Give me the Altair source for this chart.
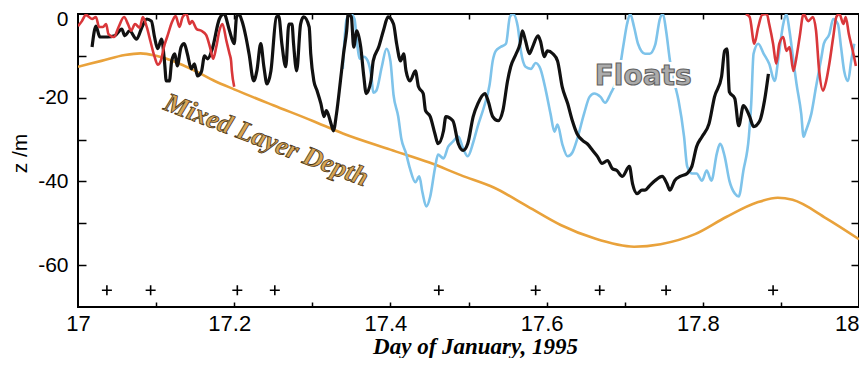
import altair as alt
import pandas as pd

# ---------------- data ----------------
black_day = [17.018,17.023,17.028,17.038,17.047,17.056,17.060,17.066,17.075,17.082,
             17.088,17.094,17.098,17.102,17.107,17.111,17.113,17.117,17.120,17.124,
             17.127,17.132,17.136,17.140,17.145,17.149,17.153,17.158,17.162,17.166,
             17.172,17.181,17.187,17.194,17.200,17.203,17.206,17.210,17.215,17.219,
             17.225,17.229,17.234,17.238,17.242,17.247,17.254,17.257,17.261,17.266,
             17.270,17.274,17.276,17.280,17.285,17.289,17.296,17.298,17.302,17.306,
             17.311,17.315,17.318,17.324,17.327,17.331,17.336,17.340,17.344,17.346,
             17.350,17.353,17.357,17.362,17.366,17.369,17.375,17.378,17.385,17.391,
             17.397,17.404,17.408,17.413,17.417,17.420,17.425,17.432,17.436,17.442,
             17.445,17.451,17.457,17.461,17.468,17.471,17.480,17.487,17.493,17.499,
             17.506,17.512,17.521,17.525,17.531,17.538,17.544,17.550,17.554,17.561,
             17.566,17.569,17.573,17.578,17.582,17.589,17.592,17.597,17.601,17.608,
             17.614,17.620,17.627,17.633,17.639,17.646,17.652,17.659,17.665,17.671,
             17.678,17.684,17.690,17.697,17.706,17.710,17.716,17.722,17.726,17.732,
             17.739,17.748,17.754,17.758,17.764,17.771,17.780,17.786,17.792,17.799,
             17.808,17.815,17.824,17.828,17.831,17.834,17.841,17.846,17.852,17.860,
             17.865,17.873,17.879,17.884]
black_z = [-7.9,-2.9,-5.5,-5.5,-5.2,-3.6,-5.2,-4.0,-6.0,-3.1,
           -1.2,-1.7,-5.5,-8.3,-6.0,-11.9,-16.0,-16.0,-11.2,-9.5,
           -12.4,-7.9,-7.1,-9.5,-13.1,-11.9,-14.8,-13.8,-10.0,-10.7,
           -8.3,-1.2,0,-4.0,-7.1,-0.7,0,-1.7,-5.5,-9.5,
           -16.0,-13.6,-7.1,-12.6,-16.7,-13.6,-0.7,-0.5,-7.1,-12.6,
           -2.4,-2.4,-7.1,-13.6,-2.4,-0.7,-3.1,-9.5,-16.0,-18.3,
           -21.4,-24.5,-23.1,-26.2,-27.9,-23.8,-16.0,-9.5,-4.0,0,
           -0.7,-7.9,-4.0,-7.9,-15.0,-19.0,-16.0,-11.2,-7.9,-4.0,
           -0.7,-2.4,-7.1,-11.2,-9.5,-13.6,-16.0,-13.6,-17.4,-19.0,
           -23.1,-24.5,-28.6,-31.0,-27.9,-24.5,-25.5,-31.0,-32.6,-31.0,
           -24.5,-21.4,-19.0,-20.7,-24.5,-25.5,-23.1,-16.0,-12.6,-9.5,
           -7.1,-4.0,-6.4,-9.5,-7.9,-5.2,-6.4,-10.2,-8.8,-9.5,
           -11.2,-17.4,-21.4,-25.5,-28.6,-30.2,-31.0,-32.6,-34.0,-35.7,
           -35.0,-36.9,-37.4,-38.8,-36.4,-40.5,-42.9,-42.1,-42.1,-41.0,
           -39.8,-38.8,-40.5,-42.1,-39.8,-38.8,-38.1,-36.4,-31.7,-29.3,
           -26.2,-19.8,-15.0,-8.8,-8.3,-18.6,-20.2,-26.7,-21.9,-24.5,
           -26.9,-25.5,-20.7,-14.3]

blue_day = [17.339,17.344,17.349,17.354,17.357,17.361,17.366,17.371,17.376,17.378,
            17.382,17.389,17.395,17.400,17.404,17.410,17.414,17.420,17.425,17.432,
            17.437,17.441,17.446,17.451,17.457,17.461,17.468,17.474,17.480,17.487,
            17.493,17.499,17.506,17.512,17.520,17.527,17.531,17.535,17.541,17.548,
            17.553,17.557,17.563,17.567,17.573,17.580,17.586,17.592,17.599,17.605,
            17.610,17.614,17.620,17.627,17.633,17.639,17.648,17.655,17.661,17.669,
            17.675,17.682,17.688,17.693,17.698,17.703,17.707,17.712,17.717,17.726,
            17.732,17.739,17.745,17.749,17.753,17.758,17.764,17.769,17.776,17.780,
            17.786,17.792,17.799,17.805,17.811,17.818,17.822,17.828,17.834,17.841,
            17.846,17.852,17.859,17.862,17.865,17.871,17.878,17.885,17.892,17.897,
            17.903,17.907,17.911,17.916,17.920,17.926,17.929,17.932,17.939,17.945,
            17.952,17.955,17.962,17.967,17.973,17.977,17.981,17.986,17.990,17.994]
blue_z = [-13.1,-1.2,0,-1.2,-6.4,-10.7,-10.2,-11.2,-15.5,-18.8,
          -18.3,-12.6,-8.3,-11.2,-19.3,-24.5,-29.8,-33.3,-36.9,-40.2,
          -38.8,-42.6,-46.0,-43.6,-36.9,-33.6,-34.5,-31.7,-30.5,-29.3,
          -32.1,-34.0,-30.7,-26.7,-22.1,-16.9,-11.2,-8.8,-7.9,-7.1,
          -0.7,0,-2.9,-8.8,-12.6,-13.1,-11.7,-13.1,-18.3,-23.8,
          -28.1,-26.4,-31.0,-34.0,-33.1,-30.0,-23.8,-19.8,-19.0,-19.8,
          -21.2,-19.0,-16.7,-13.6,-7.9,-2.4,0,-3.1,-7.1,-9.5,
          -9.5,-7.4,-1.2,0,-4.0,-11.2,-16.7,-20.7,-29.3,-36.4,
          -38.1,-38.1,-39.8,-37.4,-39.8,-33.3,-31.0,-34.0,-39.8,-42.9,
          -43.6,-37.4,-29.3,-21.4,-9.5,-7.1,-9.5,-11.9,-16.0,-10.2,
          -2.4,0,-4.0,-11.2,-16.7,-23.8,-29.3,-27.9,-23.8,-17.4,
          -10.2,-7.1,-4.8,-1.2,-2.4,-7.9,-13.6,-16.0,-11.2,-7.1]

red1_day = [17.000,17.005,17.010,17.018,17.023,17.027,17.032,17.036,17.039,17.046,
            17.052,17.059,17.064,17.068,17.073,17.079,17.083,17.088,17.093,17.098,
            17.102,17.106,17.110,17.115,17.120,17.125,17.130,17.134,17.139,17.143,
            17.146,17.152,17.158,17.164,17.169,17.173,17.177,17.181,17.185,17.190,
            17.194,17.196,17.197,17.200]
red1_z = [-2.9,-1.7,-0.2,-1.2,-0.7,-3.1,-3.1,-2.4,-4.8,-5.5,
          -3.1,-0.7,-2.4,-4.0,-2.4,-3.3,-0.7,-3.1,-6.7,-10.2,
          -12.1,-11.2,-7.9,-5.0,-2.1,-0.5,-3.1,-0.7,0,-2.4,
          -1.7,-3.6,-4.0,-5.0,-7.9,-10.7,-7.9,-4.0,-2.4,-6.4,
          -9.5,-11.2,-13.6,-17.4]

red2_day = [17.855,17.860,17.866,17.871,17.876,17.882,17.885,17.890,17.894,17.898,
            17.903,17.907,17.911,17.916,17.920,17.924,17.929,17.935,17.941,17.945,
            17.949,17.954,17.958,17.962,17.967,17.971,17.975,17.980,17.983,17.987,
            17.992,17.996]
red2_z = [0,-0.7,-7.1,-3.1,-0.2,0,-2.4,-7.1,-11.9,-7.1,
          -5.5,-8.8,-7.9,-13.6,-10.2,-5.5,0,-1.7,-0.7,-4.0,
          -13.6,-18.3,-16.0,-11.9,-5.5,-0.7,0,-2.4,-0.7,-4.8,
          -8.8,-12.4]

mld_day = [17.0,17.03,17.06,17.08,17.1,17.124,17.15,17.175,17.2,17.25,17.3,17.34,17.4,
           17.45,17.49,17.533,17.576,17.618,17.661,17.712,17.746,17.79,17.83,17.87,
           17.896,17.915,17.958,18.0]
mld_z = [-12.6,-11.2,-9.8,-9.4,-10.0,-11.4,-13.6,-16.0,-18.0,-21.8,-25.5,-28.6,-32.4,
         -35.5,-38.5,-41.5,-46.0,-50.4,-53.6,-55.6,-55.0,-52.6,-48.5,-45.0,
         -43.9,-44.4,-48.8,-53.8]

plus_day = [17.037, 17.093, 17.204, 17.252, 17.462, 17.586, 17.668, 17.753, 17.890]
plus_z = [-66] * len(plus_day)

x_labels = [17, 17.2, 17.4, 17.6, 17.8, 18]
x_minor = [17.1, 17.2, 17.3, 17.4, 17.5, 17.6, 17.7, 17.8, 17.9]
y_labels = [-60, -40, -20, 0]
y_minor = [-60, -50, -40, -30, -20, -10]

floats_label = {"day": [17.7236], "z": [-15.0], "text": ["Floats"]}
mld_label = {"day": [17.241], "z": [-30.2], "text": ["Mixed Layer Depth"]}

# ---------------- chart ----------------
XS = alt.Scale(domain=[17, 18], nice=False, zero=False)
YS = alt.Scale(domain=[-70, 0], nice=False, zero=False)


def line_df(d, z):
    return pd.DataFrame({"day": d, "z": z})


ax_x_main = alt.Axis(orient="bottom", values=x_labels, labelExpr="datum.value + ''",
                     ticks=False, tickSize=0, domain=False, grid=False,
                     labelFont="Liberation Sans", labelFontSize=22, labelColor="black",
                     labelPadding=6, labelFlush=False, labelOverlap=False,
                     labelAlign=alt.condition("datum.value == 18", alt.value("right"), alt.value("center")),
                     labelOffset=alt.condition("datum.value > 17 && datum.value < 18", alt.value(-5), alt.value(0)),
                     title="Day of January, 1995", titleFont="Liberation Serif",
                     titleFontSize=23, titleFontStyle="italic", titleFontWeight="bold",
                     titleColor="black", titleX=397, titleY=46, titleAlign="center",
                     titleBaseline="alphabetic")
ax_y_main = alt.Axis(orient="left", values=y_labels, labelExpr="datum.value + ''",
                     ticks=False, tickSize=0, domain=False, grid=False,
                     labelFont="Liberation Sans", labelFontSize=21, labelColor="black",
                     labelPadding=10, labelFlush=False, labelOverlap=False,
                     labelOffset=alt.condition("datum.value == 0", alt.value(5), alt.value(0)),
                     title="z /m", titleFont="Liberation Sans", titleFontSize=21,
                     titleFontWeight="normal", titleColor="black", titleAngle=270,
                     titleX=-58, titleY=139, titleAlign="center", titleBaseline="middle")


def tick_axis(orient, values, size):
    return alt.Axis(orient=orient, values=values, labels=False, ticks=True, tickSize=size,
                    tickWidth=1.5, tickColor="black", domain=False, grid=False,
                    offset=-size, title=None)


def enc(layer, ax_x=None, ax_y=None):
    return layer.encode(
        x=alt.X("day:Q", scale=XS, axis=ax_x),
        y=alt.Y("z:Q", scale=YS, axis=ax_y),
    )


mld = enc(alt.Chart(line_df(mld_day, mld_z)).mark_line(
    color="#E9A23B", strokeWidth=2.6, interpolate="monotone", clip=True
), tick_axis("bottom", x_minor, 5), tick_axis("left", y_minor, 8))

blue = enc(alt.Chart(line_df(blue_day, blue_z)).mark_line(
    color="#7EC3EA", strokeWidth=2.6, interpolate="monotone", clip=True
), ax_x_main, ax_y_main)

black = enc(alt.Chart(line_df(black_day, black_z)).mark_line(
    color="#111111", strokeWidth=3.2, interpolate="monotone", clip=True
))

red_df = pd.concat([
    line_df(red1_day, red1_z).assign(seg="a"),
    line_df(red2_day, red2_z).assign(seg="b"),
])
red = enc(alt.Chart(red_df).mark_line(
    color="#D9373A", strokeWidth=2.6, interpolate="monotone", clip=True
)).encode(detail="seg:N")

plus = enc(alt.Chart(line_df(plus_day, plus_z)).mark_point(
    shape="M-1,0L1,0M0,-1L0,1", filled=False, size=100, strokeWidth=1.6,
    color="black", opacity=1
), tick_axis("top", x_minor, 5), tick_axis("right", y_minor, 8))

floats_halo = enc(alt.Chart(pd.DataFrame(floats_label)).mark_text(
    font="DejaVu Sans", fontSize=28, fontWeight="bold", fill="white",
    stroke="white", strokeWidth=6, align="center", baseline="middle"
)).encode(text="text:N")

floats_txt = enc(alt.Chart(pd.DataFrame(floats_label)).mark_text(
    font="DejaVu Sans", fontSize=28, fontWeight="bold", fill="#ababab",
    stroke="#626262", strokeWidth=1.1, align="center", baseline="middle"
)).encode(text="text:N")

mld_txt = enc(alt.Chart(pd.DataFrame(mld_label)).mark_text(
    font="Liberation Serif", fontSize=27, fontStyle="italic", fontWeight="bold",
    fill="#D8A655", stroke="#4a3518", strokeWidth=0.8, angle=21,
    align="center", baseline="middle"
)).encode(text="text:N")

chart = alt.layer(mld, blue, black, red, plus, floats_halo, floats_txt, mld_txt).resolve_axis(
    x="independent", y="independent"
).properties(
    width=781, height=293,
    autosize=alt.AutoSizeParams(type="none"),
    padding={"left": 70, "top": 6, "right": 0, "bottom": 51},
    background="white",
).configure_view(stroke="black", strokeWidth=2)

chart.save("out.html", embed_options={"renderer": "svg", "actions": False})
